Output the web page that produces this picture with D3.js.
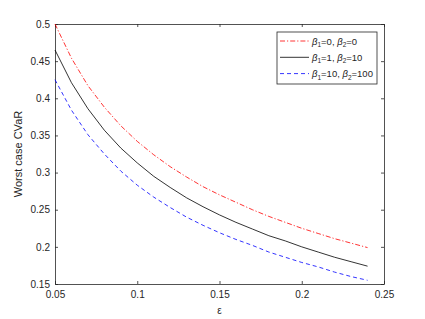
<!DOCTYPE html>
<html>
<head>
<meta charset="utf-8">
<script src="https://cdn.jsdelivr.net/npm/d3@7"></script>
<style>
  body { margin: 0; background: #fff; }
  text { font-family: "Liberation Sans", Arial, sans-serif; fill: #262626; }
</style>
</head>
<body>
<div id="chart"></div>
<script>
// epsilon values
var eps = [0.05, 0.06, 0.07, 0.08, 0.09, 0.10, 0.11, 0.12, 0.13, 0.14,
           0.15, 0.16, 0.17, 0.18, 0.19, 0.20, 0.21, 0.22, 0.23, 0.24];
// worst case CVaR, one array per (beta1, beta2)
var cvarB0 = [0.500, 0.454, 0.417, 0.388, 0.363, 0.342, 0.324, 0.308, 0.294, 0.281,
              0.270, 0.260, 0.250, 0.241, 0.233, 0.225, 0.218, 0.211, 0.205, 0.199];
var cvarB1 = [0.465, 0.421, 0.386, 0.357, 0.333, 0.313, 0.295, 0.280, 0.266, 0.254,
              0.243, 0.233, 0.224, 0.215, 0.208, 0.200, 0.193, 0.186, 0.180, 0.174];
var cvarB10 = [0.425, 0.384, 0.351, 0.325, 0.302, 0.283, 0.267, 0.253, 0.240, 0.229,
               0.219, 0.210, 0.202, 0.193, 0.186, 0.179, 0.173, 0.166, 0.160, 0.155];
var xTicks = [0.05, 0.1, 0.15, 0.2, 0.25];
var yTicks = [0.15, 0.2, 0.25, 0.3, 0.35, 0.4, 0.45, 0.5];
var legendB1 = ["0", "1", "10"];
var legendB2 = ["0", "10", "100"];

var svgWidth = 425, svgHeight = 319;
var margin = { top: 24, right: 41, bottom: 35, left: 55 };
var width = svgWidth - margin.left - margin.right;
var height = svgHeight - margin.top - margin.bottom;

var svg = d3.select("#chart").append("svg")
  .attr("width", svgWidth)
  .attr("height", svgHeight);

var g = svg.append("g")
  .attr("transform", "translate(" + margin.left + "," + margin.top + ")");

var x = d3.scaleLinear().domain([0.05, 0.25]).range([0, width]);
var y = d3.scaleLinear().domain([0.15, 0.5]).range([height, 0]);

var fmt = function(d) { return d3.format("")(+d.toFixed(2)); };

// axes, MATLAB style: ticks inward on all four sides
g.append("g")
  .attr("transform", "translate(0," + height + ")")
  .call(d3.axisBottom(x).tickValues(xTicks).tickFormat(fmt).tickSizeInner(-3).tickSizeOuter(0).tickPadding(7));
g.append("g")
  .call(d3.axisTop(x).tickValues(xTicks).tickFormat("").tickSizeInner(-3).tickSizeOuter(0));
g.append("g")
  .call(d3.axisLeft(y).tickValues(yTicks).tickFormat(fmt).tickSizeInner(-3).tickSizeOuter(0).tickPadding(5));
g.append("g")
  .attr("transform", "translate(" + width + ",0)")
  .call(d3.axisRight(y).tickValues(yTicks).tickFormat("").tickSizeInner(-3).tickSizeOuter(0));

g.selectAll(".domain, .tick line").attr("stroke", "#262626").attr("stroke-width", 0.8);
g.selectAll(".tick text").attr("font-size", 10).attr("fill", "#262626")
  .attr("font-family", "Liberation Sans, Arial, sans-serif");

var series = [
  { vals: cvarB0, color: "#ff0000", dash: "5,2,1.2,2" },
  { vals: cvarB1, color: "#000000", dash: null },
  { vals: cvarB10, color: "#0000ff", dash: "4,3" }
];

var line = d3.line()
  .x(function(d) { return x(d[0]); })
  .y(function(d) { return y(d[1]); });

series.forEach(function(s) {
  g.append("path")
    .datum(eps.map(function(e, i) { return [e, s.vals[i]]; }))
    .attr("fill", "none")
    .attr("stroke", s.color)
    .attr("stroke-width", 0.8)
    .attr("stroke-dasharray", s.dash)
    .attr("d", line);
});

// axis labels
svg.append("text")
  .attr("transform", "translate(22," + (margin.top + height / 2) + ") rotate(-90)")
  .attr("text-anchor", "middle")
  .attr("font-size", 11)
  .text("Worst case CVaR");

svg.append("text")
  .attr("x", margin.left + width / 2)
  .attr("y", 314)
  .attr("text-anchor", "middle")
  .attr("font-size", 10)
  .text("ε");

// legend
var lg = svg.append("g").attr("transform", "translate(277,32)");
lg.append("rect")
  .attr("width", 100).attr("height", 52)
  .attr("fill", "#fff").attr("stroke", "#262626").attr("stroke-width", 0.8);

series.forEach(function(s, i) {
  var ry = 9 + i * 16.3;
  lg.append("line")
    .attr("x1", 3).attr("x2", 32).attr("y1", ry).attr("y2", ry)
    .attr("stroke", s.color).attr("stroke-width", 0.8)
    .attr("stroke-dasharray", s.dash);
  var t = lg.append("text").attr("x", 35).attr("y", ry + 3.5).attr("font-size", 9.5).attr("fill", "#000");
  t.append("tspan").attr("font-style", "italic").text("β");
  t.append("tspan").attr("font-size", 6.5).attr("dy", 2.5).text("1");
  t.append("tspan").attr("dy", -2.5).text("=" + legendB1[i] + ", ");
  t.append("tspan").attr("font-style", "italic").text("β");
  t.append("tspan").attr("font-size", 6.5).attr("dy", 2.5).text("2");
  t.append("tspan").attr("dy", -2.5).text("=" + legendB2[i]);
});
</script>
</body>
</html>
